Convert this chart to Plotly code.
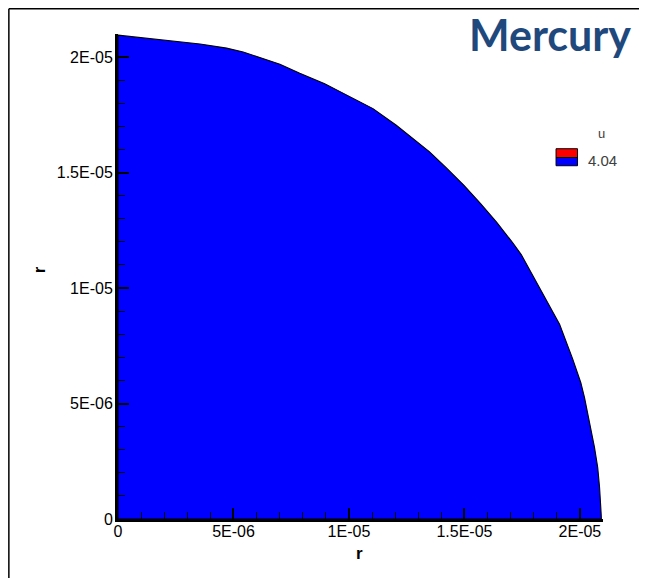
import plotly.graph_objects as go

# Boundary of the filled region (units of 1E-06)
boundary_x_e6 = [0.0, 3.55, 4.70, 5.42, 7.01, 7.87, 8.95, 9.74, 11.04, 12.05, 12.77,
                 13.49, 14.22, 14.98, 15.70, 16.40, 17.10, 17.46, 18.15, 18.83, 19.12,
                 19.69, 19.91, 20.04, 20.20, 20.49, 20.63, 20.77, 20.85, 20.92, 20.93]
boundary_y_e6 = [20.95, 20.57, 20.39, 20.22, 19.69, 19.30, 18.85, 18.44, 17.77, 17.05, 16.48,
                 15.90, 15.20, 14.45, 13.66, 12.84, 11.95, 11.45, 10.20, 9.00, 8.43,
                 6.92, 6.27, 5.90, 5.26, 3.83, 3.11, 2.24, 1.38, 0.23, 0.0]

tick_vals = [0, 5e-6, 1e-5, 1.5e-5, 2e-5]
tick_text = ["0", "5E-06", "1E-05", "1.5E-05", "2E-05"]

legend_title = "u"
legend_level = "4.04"
chart_title = "Mercury"
axis_title = "r"

xs = [0.0] + [v * 1e-6 for v in boundary_x_e6] + [0.0]
ys = [0.0] + [v * 1e-6 for v in boundary_y_e6] + [0.0]

OFF = 8  # page body margin
W, H = 647 - OFF, 578 - OFF
L, R, T, B = 110, 43.5, 25.8, 59.3
pw, ph = W - L - R, H - T - B

def px(x):
    # page x -> paper
    return (x - OFF - L) / pw

def py(y):
    # page y -> paper
    return (H - B - (y - OFF)) / ph

fig = go.Figure()
fig.add_trace(go.Scatter(x=xs, y=ys, mode="lines", fill="toself",
                         fillcolor="#0000FF", line=dict(color="black", width=1.1),
                         hoverinfo="skip", showlegend=False))

axis_common = dict(
    range=[0, 2.1e-5], showgrid=False, zeroline=False,
    showline=True, linecolor="black", linewidth=3,
    ticks="inside", ticklen=11, tickwidth=2, tickcolor="black",
    tickvals=tick_vals, ticktext=tick_text,
    tickfont=dict(family="Liberation Sans, Arial", size=16, color="black"),
    minor=dict(dtick=1e-6, tick0=0, ticks="inside", ticklen=7, tickwidth=1,
               tickcolor="black", showgrid=False),
    mirror=False, fixedrange=True,
)
fig.update_xaxes(**axis_common, ticklabelstandoff=-4)
fig.update_yaxes(**axis_common, ticklabelstandoff=-1)

shapes = [
    # outer frame (top and left)
    dict(type="line", xref="paper", yref="paper", x0=px(8.75), y0=py(8.6), x1=px(660), y1=py(8.6),
         line=dict(color="black", width=1.5)),
    dict(type="line", xref="paper", yref="paper", x0=px(8.75), y0=py(8.6), x1=px(8.75), y1=py(590),
         line=dict(color="black", width=1.5)),
    # legend swatch
    dict(type="rect", xref="paper", yref="paper", x0=px(556.5), x1=px(578), y0=py(148.5), y1=py(157.3),
         fillcolor="#FF0000", line=dict(width=0)),
    dict(type="rect", xref="paper", yref="paper", x0=px(556.5), x1=px(578), y0=py(157.3), y1=py(165.5),
         fillcolor="#0000FF", line=dict(width=0)),
    dict(type="rect", xref="paper", yref="paper", x0=px(556.5), x1=px(578), y0=py(148.5), y1=py(165.5),
         fillcolor="rgba(0,0,0,0)", line=dict(color="black", width=1)),
    dict(type="line", xref="paper", yref="paper", x0=px(556.5), x1=px(578), y0=py(157.3), y1=py(157.3),
         line=dict(color="black", width=1)),
]

annotations = [
    dict(text="<b>%s</b>" % chart_title, xref="paper", yref="paper", x=px(550.5), y=py(34),
         xanchor="center", yanchor="middle", showarrow=False,
         font=dict(family="Lato, Open Sans", size=43, color="#1F497D")),
    dict(text=legend_title, xref="paper", yref="paper", x=px(601.5), y=py(133),
         xanchor="center", yanchor="middle", showarrow=False,
         font=dict(family="Liberation Sans, Arial", size=13, color="#404040")),
    dict(text=legend_level, xref="paper", yref="paper", x=px(586), y=py(160),
         xanchor="left", yanchor="middle", showarrow=False,
         font=dict(family="Liberation Sans, Arial", size=15, color="#404040")),
    dict(text="<b>%s</b>" % axis_title, xref="paper", yref="paper", x=px(360), y=py(553),
         xanchor="center", yanchor="middle", showarrow=False,
         font=dict(family="Liberation Sans, Arial", size=17, color="black")),
    dict(text="<b>%s</b>" % axis_title, xref="paper", yref="paper", x=px(39), y=py(270),
         xanchor="center", yanchor="middle", showarrow=False, textangle=-90,
         font=dict(family="Liberation Sans, Arial", size=17, color="black")),
]

fig.update_layout(
    width=W, height=H, autosize=False,
    margin=dict(l=L, r=R, t=T, b=B, pad=0),
    paper_bgcolor="white", plot_bgcolor="white",
    shapes=shapes, annotations=annotations, showlegend=False,
)

fig.write_html("out.html", config={"displayModeBar": False})
